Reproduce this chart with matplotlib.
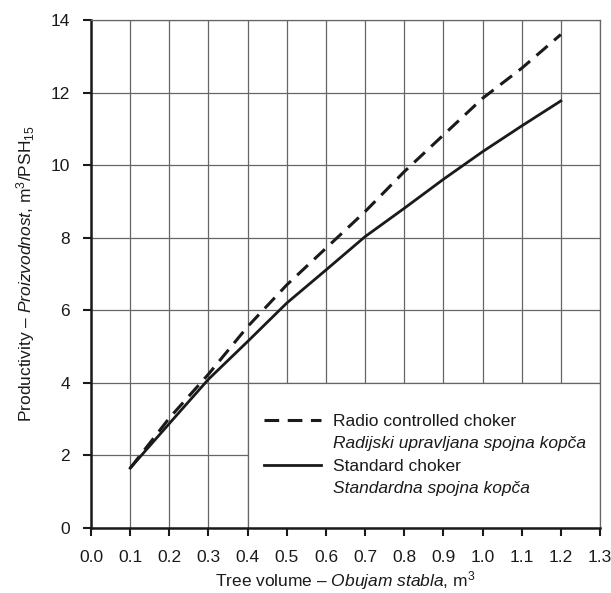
import matplotlib
matplotlib.use("Agg")
import matplotlib.pyplot as plt
from matplotlib.lines import Line2D
from matplotlib.patches import Rectangle

# values
tree_volume = [0.1, 0.2, 0.3, 0.4, 0.5, 0.6, 0.7, 0.8, 0.9, 1.0, 1.1, 1.2]
radio_choker = [1.65, 3.03, 4.24, 5.55, 6.70, 7.71, 8.72, 9.82, 10.83, 11.84, 12.67, 13.60]
standard_choker = [1.65, 2.88, 4.10, 5.14, 6.20, 7.11, 8.03, 8.81, 9.61, 10.37, 11.08, 11.77]

x_ticks = [0.0, 0.1, 0.2, 0.3, 0.4, 0.5, 0.6, 0.7, 0.8, 0.9, 1.0, 1.1, 1.2, 1.3]
y_ticks = [0, 2, 4, 6, 8, 10, 12, 14]

plt.rcParams['font.family'] = ['Liberation Sans', 'DejaVu Sans']
plt.rcParams['mathtext.fontset'] = 'custom'
plt.rcParams['mathtext.rm'] = 'Liberation Sans'
plt.rcParams['mathtext.it'] = 'Liberation Sans:italic'

fig = plt.figure(figsize=(6.11, 5.93), dpi=100)
ax = fig.add_axes([0.149, 0.1096, 0.833, 0.8567])

ink = '#1a1a1a'
grid_col = '#666666'
ax.set_xlim(0, 1.3)
ax.set_ylim(0, 14)
ax.set_xticks(x_ticks)
ax.set_xticklabels(['%.1f' % t for t in x_ticks])
ax.set_yticks(y_ticks)
ax.set_axisbelow(True)
ax.grid(True, color=grid_col, linewidth=0.9)

# white box behind the legend that hides the grid
ax.add_patch(Rectangle((0.4, 0), 0.9, 4, facecolor='white', edgecolor=grid_col,
                       linewidth=0.9, zorder=1))

ax.plot(tree_volume, radio_choker, color=ink, linestyle=(0, (4.8, 2.8)), linewidth=2.2, zorder=3)
ax.plot(tree_volume, standard_choker, color=ink, linestyle='-', linewidth=2.0, zorder=3)

for side in ['top', 'right']:
    ax.spines[side].set_color(grid_col)
    ax.spines[side].set_linewidth(0.9)
for side in ['left', 'bottom']:
    ax.spines[side].set_color(ink)
    ax.spines[side].set_linewidth(1.8)
ax.tick_params(direction='out', length=6, width=1.5, color=ink, labelsize=12.5,
               labelcolor=ink)
ax.tick_params(axis='x', pad=10)
ax.tick_params(axis='y', pad=9)

ax.set_xlabel(r'Tree volume – $\it{Obujam\ stabla}$, m$^{3}$', fontsize=12.5, color=ink, labelpad=3)
ax.set_ylabel(r'Productivity – $\it{Proizvodnost}$, m$^{3}$/PSH$_{15}$', fontsize=12.5, color=ink, labelpad=10)

blank = Line2D([], [], linestyle='none')
handles = [Line2D([], [], color=ink, linestyle=(0, (4.8, 2.8)), linewidth=2.2), blank,
           Line2D([], [], color=ink, linewidth=2.0), blank]
labels = ['Radio controlled choker', 'Radijski upravljana spojna kopča',
          'Standard choker', 'Standardna spojna kopča']
leg = ax.legend(handles, labels, loc='upper left', bbox_to_anchor=(0.322, 0.242), frameon=False,
                fontsize=12.5, handlelength=3.3, handletextpad=0.7, labelspacing=0.42,
                borderpad=0)
for i in [1, 3]:
    leg.get_texts()[i].set_style('italic')
for t in leg.get_texts():
    t.set_color(ink)

fig.savefig('out.png', dpi=100)
